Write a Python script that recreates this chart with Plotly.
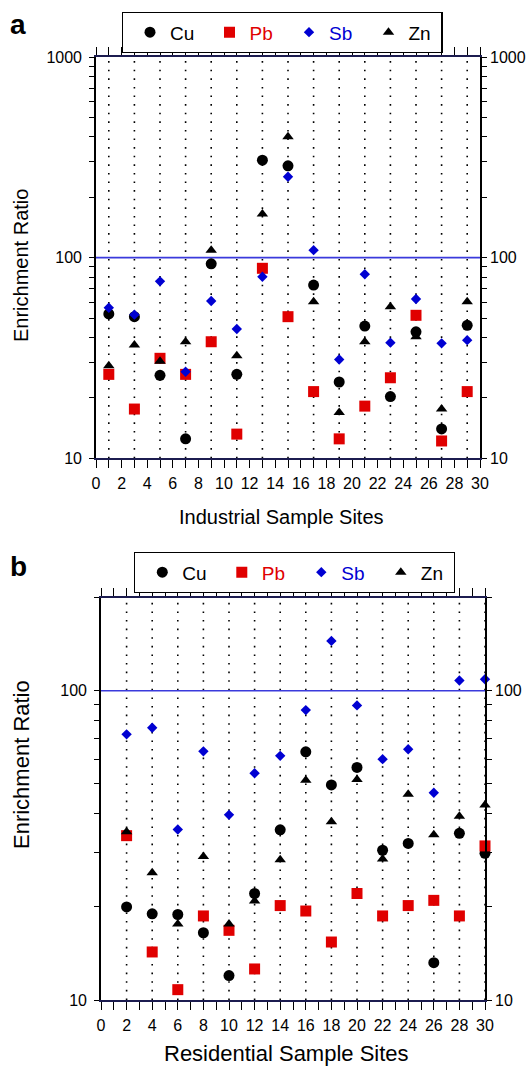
import plotly.graph_objects as go

# ---------------- data ----------------
sites_a = [1, 3, 5, 7, 9, 11, 13, 15, 17, 19, 21, 23, 25, 27, 29]
cu_a = [52.4, 50.8, 25.9, 12.5, 93.2, 26.2, 306, 287, 73.0, 24.0, 45.6, 20.3, 42.7, 14.0, 46.0]
pb_a = [26.2, 17.6, 31.5, 26.2, 38.1, 13.2, 88.5, 50.8, 21.5, 12.5, 18.2, 25.2, 51.6, 12.2, 21.5]
sb_a = [56.3, 52.0, 76.2, 27.0, 60.8, 44.1, 80.3, 253, 109, 31.1, 82.6, 37.7, 62.2, 37.4, 38.8]
zn_a = [28.9, 36.7, 30.5, 38.1, 109, 32.4, 165, 400, 60.3, 16.9, 38.1, 56.9, 40.3, 17.6, 60.3]

sites_b = [2, 4, 6, 8, 10, 12, 14, 16, 18, 20, 22, 24, 26, 28, 30]
cu_b = [20.0, 19.0, 18.9, 16.5, 12.0, 22.1, 35.5, 63.5, 49.6, 56.5, 30.5, 32.1, 13.2, 34.6, 29.8]
pb_b = [34.0, 14.3, 10.8, 18.7, 16.8, 12.6, 20.2, 19.4, 15.4, 22.1, 18.7, 20.2, 21.0, 18.7, 31.5]
sb_b = [72.3, 75.9, 35.6, 63.7, 39.7, 54.1, 61.6, 86.6, 145, 89.7, 60.1, 64.7, 46.8, 108, 109]
zn_b = [35.0, 25.8, 17.6, 29.1, 17.6, 20.9, 28.4, 51.4, 37.7, 51.7, 28.6, 46.3, 34.2, 39.3, 42.7]

threshold = 100
x_ticks = list(range(0, 31))
x_labels = [str(v) if v % 2 == 0 else "" for v in x_ticks]
y_ticks_a = [m * 10 ** e for e in (1, 2) for m in range(1, 10)] + [1000]
y_ticks_b = [m * 10 ** e for e in (1,) for m in range(1, 10)] + [100, 200]
decades = {10: "10", 100: "100", 1000: "1000"}

W, H = 530, 1066
FONT = "Liberation Sans, Arial, sans-serif"
BLACK = "#000000"
RED = "#e00000"
BLUE = "#0000d2"
NAVY = "#1c1c50"

def px_x(p):
    return p / W

def px_y(p):
    return 1 - p / H

series = [
    ("Cu", "circle", 11, BLACK, "#000"),
    ("Pb", "square", 11, RED, "#e00000"),
    ("Sb", "diamond", 8, BLUE, "#0000d2"),
    ("Zn", "triangle-up", 10, BLACK, "#000"),
]

fig = go.Figure()

panels = [
    ("x", "y", "y3", "legend", sites_a, [cu_a, pb_a, sb_a, zn_a]),
    ("x2", "y2", "y4", "legend2", sites_b, [cu_b, pb_b, sb_b, zn_b]),
]
for xa, ya, yr, leg, sites, vals in panels:
    for (name, sym, size, col, tcol), v in zip(series, vals):
        fig.add_trace(go.Scatter(
            x=sites, y=v, mode="markers", xaxis=xa, yaxis=ya,
            name=f'<span style="color:{tcol}">{name}</span>',
            legend=leg, cliponaxis=False,
            marker=dict(symbol=sym, size=size, color=col, line=dict(width=0)),
        ))
    # invisible carrier so the right-hand mirrored label axis is drawn
    fig.add_trace(go.Scatter(x=[sites[0]], y=[threshold], xaxis=xa, yaxis=yr, mode="markers",
                             marker=dict(opacity=0), showlegend=False, hoverinfo="skip"))

# dotted vertical guide lines at each sample site + blue threshold line
shapes = []
for xa, ya, sites in (("x", "y", sites_a), ("x2", "y2", sites_b)):
    for s in sites:
        shapes.append(dict(type="line", xref=xa, yref=f"{ya} domain", x0=s, x1=s, y0=0, y1=1,
                           line=dict(color="black", width=1.6, dash="1.6px,7px"), layer="below"))
    shapes.append(dict(type="line", xref=f"{xa} domain", yref=ya, x0=0, x1=1,
                       y0=threshold, y1=threshold, line=dict(color="#3a3adc", width=1.6), layer="below"))

tickfont = dict(family=FONT, size=16, color="black")

def xaxis_cfg(dom, anchor):
    return dict(domain=dom, anchor=anchor, range=[0, 30], tickmode="array", tickvals=x_ticks,
                ticktext=x_labels, ticks="outside", ticklen=8, tickwidth=1.2, tickcolor="black",
                showline=True, linecolor=NAVY, linewidth=1.6, mirror="allticks",
                showgrid=False, zeroline=False, tickfont=tickfont, ticklabelstandoff=2,
                automargin=False)

def yaxis_cfg(dom, anchor, rng, tv):
    return dict(domain=dom, anchor=anchor, type="log", range=rng, tickmode="array", tickvals=tv,
                ticktext=[decades.get(t, "") for t in tv], ticks="outside", ticklen=5,
                tickwidth=1.2, tickcolor="black", showline=True, linecolor="black", linewidth=1.6,
                mirror="allticks", showgrid=False, zeroline=False, tickfont=tickfont,
                ticklabelstandoff=4, automargin=False)

def yright_cfg(over, anchor, rng, tv):
    return dict(overlaying=over, anchor=anchor, side="right", type="log", range=rng,
                tickmode="array", tickvals=tv, ticktext=[decades[t] for t in tv],
                ticks="", showline=False, showgrid=False, zeroline=False, tickfont=tickfont,
                ticklabelstandoff=9, automargin=False)

dom_xa = [px_x(96), px_x(480)]
dom_ya = [px_y(458.3), px_y(57)]
dom_xb = [px_x(101), px_x(485)]
dom_yb = [px_y(1000), px_y(597.7)]

legend_cfg = dict(orientation="h", xanchor="left", yanchor="top", bgcolor="white",
                  bordercolor="black", borderwidth=1.3, font=dict(family=FONT, size=19),
                  entrywidth=27.5, entrywidthmode="pixels", indentation=7, itemclick=False)

fig.update_layout(
    width=W, height=H, margin=dict(l=0, r=0, t=0, b=0, autoexpand=False),
    paper_bgcolor="white", plot_bgcolor="white",
    font=dict(family=FONT, color="black"),
    xaxis=xaxis_cfg(dom_xa, "y"),
    yaxis=yaxis_cfg(dom_ya, "x", [1, 3], y_ticks_a),
    yaxis3=yright_cfg("y", "x", [1, 3], [10, 100, 1000]),
    xaxis2=xaxis_cfg(dom_xb, "y2"),
    yaxis2=yaxis_cfg(dom_yb, "x2", [1, 2.30103], y_ticks_b),
    yaxis4=yright_cfg("y2", "x2", [1, 2.30103], [10, 100]),
    legend=dict(legend_cfg, x=px_x(121.7), y=px_y(12)),
    legend2=dict(legend_cfg, x=px_x(134), y=px_y(552)),
    shapes=shapes,
    showlegend=True,
)

ann = [
    dict(text="<b>a</b>", x=px_x(17.5), y=px_y(25), size=28),
    dict(text="<b>b</b>", x=px_x(18.5), y=px_y(566.5), size=28),
    dict(text="Industrial Sample Sites", x=px_x(281), y=px_y(517), size=20),
    dict(text="Residential Sample Sites", x=px_x(286.7), y=px_y(1053), size=22),
    dict(text="Enrichment Ratio", x=px_x(21), y=px_y(266), size=20, angle=-90),
    dict(text="Enrichment Ratio", x=px_x(21), y=px_y(765), size=22, angle=-90),
]
for a in ann:
    fig.add_annotation(text=a["text"], x=a["x"], y=a["y"], xref="paper", yref="paper",
                       xanchor="center", yanchor="middle", showarrow=False,
                       textangle=a.get("angle", 0), font=dict(family=FONT, size=a["size"], color="black"))

fig.write_html("out.html")
